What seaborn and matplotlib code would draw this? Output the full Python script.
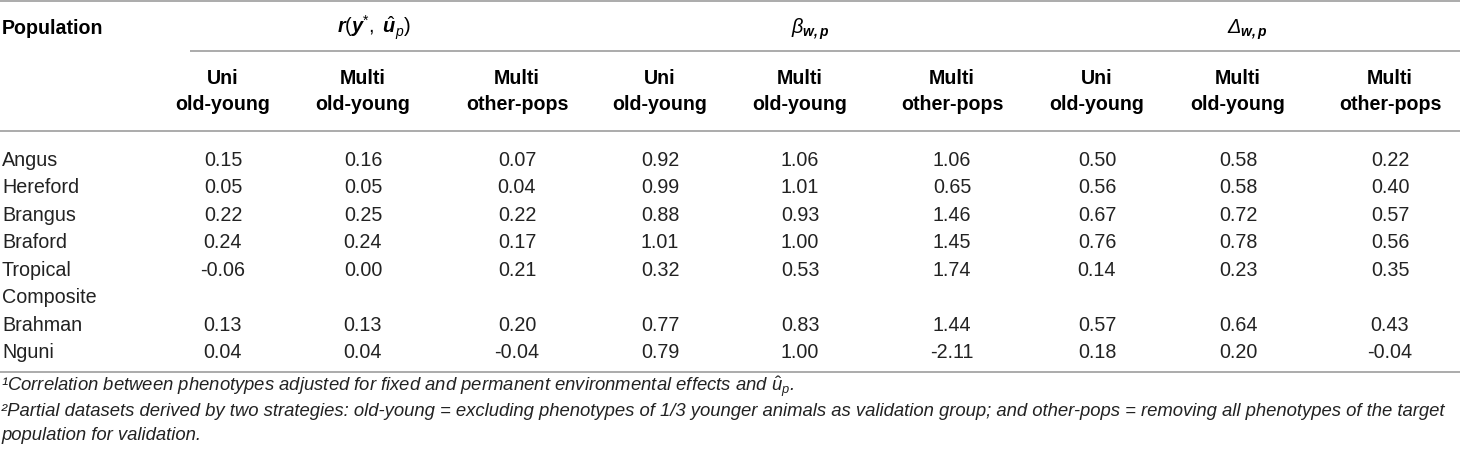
import matplotlib
matplotlib.use("Agg")
import matplotlib.pyplot as plt
import seaborn as sns
import pandas as pd

# ---------------- data ----------------
populations = ["Angus", "Hereford", "Brangus", "Braford", "Tropical\nComposite", "Brahman", "Nguni"]
group_labels = [r"$\mathbfit{r}\mathit{(}\mathbfit{y}^{*}\mathit{,\ }\hat{\mathbfit{u}}_{p}\mathit{)}$",
                r"$\beta_{\mathbfit{w,p}}$",
                "\u0394$_{\\mathbfit{w,p}}$"]
sub_labels = ["Uni\nold-young", "Multi\nold-young", "Multi\nother-pops"]

r_uni_oy = [0.15, 0.05, 0.22, 0.24, -0.06, 0.13, 0.04]
r_multi_oy = [0.16, 0.05, 0.25, 0.24, 0.00, 0.13, 0.04]
r_multi_op = [0.07, 0.04, 0.22, 0.17, 0.21, 0.20, -0.04]
b_uni_oy = [0.92, 0.99, 0.88, 1.01, 0.32, 0.77, 0.79]
b_multi_oy = [1.06, 1.01, 0.93, 1.00, 0.53, 0.83, 1.00]
b_multi_op = [1.06, 0.65, 1.46, 1.45, 1.74, 1.44, -2.11]
d_uni_oy = [0.50, 0.56, 0.67, 0.76, 0.14, 0.57, 0.18]
d_multi_oy = [0.58, 0.58, 0.72, 0.78, 0.23, 0.64, 0.20]
d_multi_op = [0.22, 0.40, 0.57, 0.56, 0.35, 0.43, -0.04]

footnotes = [
    "\u00b9Correlation between phenotypes adjusted for fixed and permanent environmental effects and $\\hat{u}_{p}$.",
    "\u00b2Partial datasets derived by two strategies: old-young = excluding phenotypes of 1/3 younger animals as validation group; and other-pops = removing all phenotypes of the target",
    "population for validation.",
]

table = pd.DataFrame({
    "r_uni_oy": r_uni_oy, "r_multi_oy": r_multi_oy, "r_multi_op": r_multi_op,
    "b_uni_oy": b_uni_oy, "b_multi_oy": b_multi_oy, "b_multi_op": b_multi_op,
    "d_uni_oy": d_uni_oy, "d_multi_oy": d_multi_oy, "d_multi_op": d_multi_op,
}, index=populations)

# ---------------- style ----------------
sns.set_theme(style="white")
plt.rcParams["font.family"] = ["Liberation Sans", "DejaVu Sans"]
plt.rcParams["mathtext.fontset"] = "custom"
plt.rcParams["mathtext.rm"] = "Liberation Sans"
plt.rcParams["mathtext.it"] = "Liberation Sans:italic"
plt.rcParams["mathtext.bf"] = "Liberation Sans:bold"
try:
    plt.rcParams["mathtext.bfit"] = "Liberation Sans:italic:bold"
except KeyError:
    pass

W, H = 1460, 458
fig = plt.figure(figsize=(W / 100, H / 100), dpi=100)
ax = fig.add_axes([0, 0, 1, 1])
ax.set_xlim(0, W)
ax.set_ylim(H, 0)
ax.axis("off")

# layout (pixel units)
col_x = [223, 363, 517, 660, 800, 952, 1097, 1238, 1390]
label_x = 2
line_color = "#ababab"
lw = 1.4
fs_data = 14.2
fs_head = 14.1
fs_note = 13.3
txt_color = "#222222"

# rules
ax.hlines(0.8, 0, W, color=line_color, lw=lw)
ax.hlines(51, 190, W, color=line_color, lw=lw)
ax.hlines(131, 0, W, color=line_color, lw=lw)
ax.hlines(372, 0, W, color=line_color, lw=lw)

# header
ax.text(label_x, 34, "Population", fontsize=fs_head, fontweight="bold", va="baseline", ha="left", color="black")
for g, lab in enumerate(group_labels):
    xs = col_x[g * 3:(g + 1) * 3]
    ax.text(sum(xs) / 3 + 6, 34, lab, fontsize=fs_head + 0.2, fontstyle="italic",
            va="baseline", ha="center", color="black")
    for j, sl in enumerate(sub_labels):
        top, bot = sl.split("\n")
        ax.text(xs[j], 83.5, top, fontsize=fs_head, fontweight="bold", va="baseline", ha="center", color="black")
        ax.text(xs[j], 110, bot, fontsize=fs_head, fontweight="bold", va="baseline", ha="center", color="black")

# body
row_h = 27.45
line_idx = 0
for pop, row in table.iterrows():
    y = 166 + row_h * line_idx
    parts = pop.split("\n")
    for k, p in enumerate(parts):
        ax.text(label_x, y + row_h * k, p, fontsize=fs_data, va="baseline", ha="left", color=txt_color)
    for c, v in enumerate(row.values):
        ax.text(col_x[c], y, f"{v:.2f}", fontsize=fs_data, va="baseline", ha="center", color=txt_color)
    line_idx += len(parts)

# footnotes
for k, note in enumerate(footnotes):
    ax.text(1, 392.5 + 23.5 * k, note, fontsize=fs_note, fontstyle="italic", va="baseline", ha="left", color=txt_color)

fig.savefig("out.png", dpi=100)
